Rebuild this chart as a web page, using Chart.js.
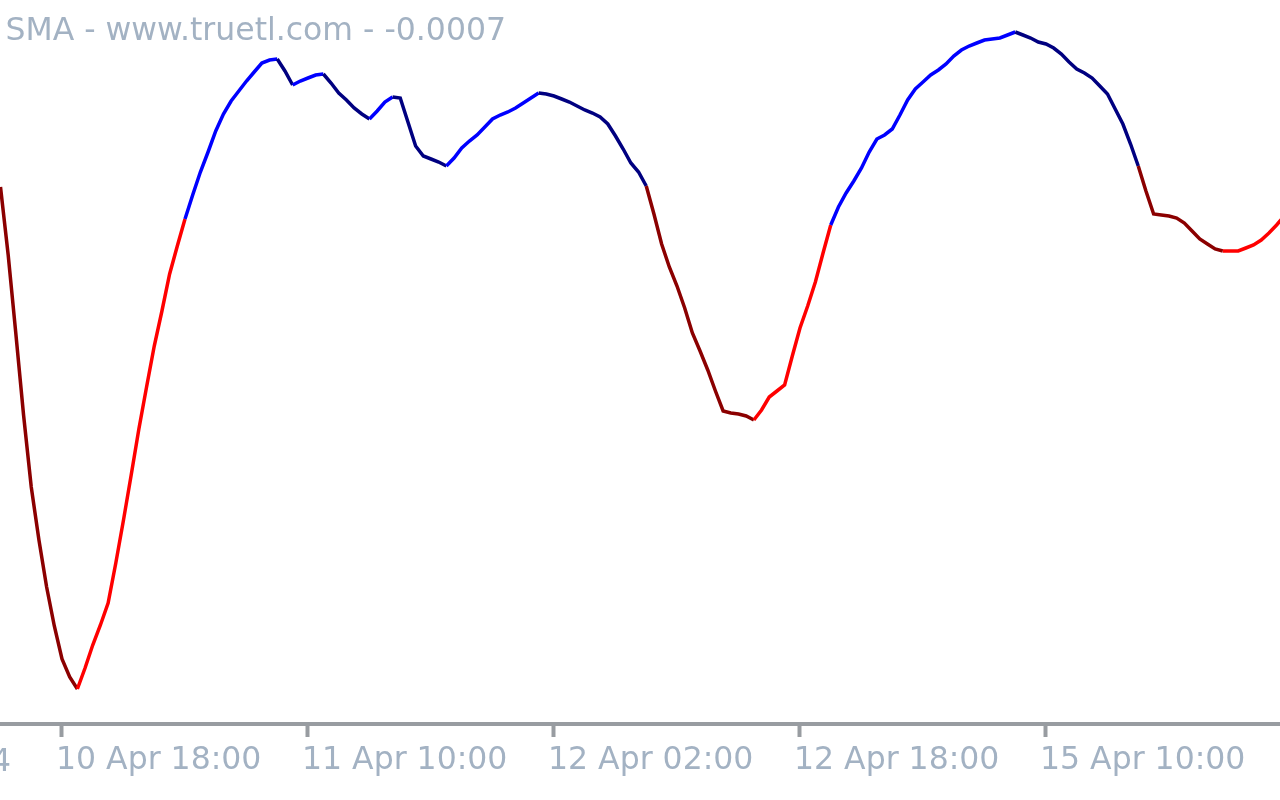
<!DOCTYPE html>
<html lang="en">
<head>
<meta charset="UTF-8">
<title>SMA - www.truetl.com</title>
<script src="https://cdn.jsdelivr.net/npm/chart.js"></script>
<style>
  html, body { margin: 0; padding: 0; background: #fff; }
  .chart-box { position: relative; width: 1280px; height: 800px; }
</style>
</head>
<body>
<div class="chart-box"><canvas id="smaChart"></canvas></div>
<script>
// SMA readings in pips (x 0.0001), one every 30 min starting 10 Apr 14:00
const sma = [
  -3.9, -10.7, -18.6, -26.7, -33.9, -39.2, -43.9, -47.8, -51.1, -52.9,
  -54.1, -52.0, -49.7, -47.7, -45.5, -41.5, -37.2, -32.7, -28.1, -23.9,
  -19.8, -16.3, -12.6, -9.8, -7.1, -4.7, -2.4, -0.4, 1.7, 3.4,
  4.7, 5.7, 6.7, 7.6, 8.5, 8.8, 8.9, 7.7, 6.3, 6.7,
  7.0, 7.3, 7.4, 6.5, 5.5, 4.8, 4.0, 3.4, 2.9, 3.7,
  4.6, 5.1, 5.0, 2.6, 0.2, -0.8, -1.1, -1.4, -1.8, -1.0,
  0.0, 0.7, 1.3, 2.1, 2.9, 3.3, 3.6, 4.0, 4.5, 5.0,
  5.5, 5.4, 5.2, 4.9, 4.6, 4.2, 3.8, 3.5, 3.1, 2.4,
  1.2, -0.1, -1.5, -2.4, -3.8, -6.6, -9.6, -11.9, -13.8, -16.0,
  -18.5, -20.3, -22.2, -24.3, -26.3, -26.5, -26.6, -26.8, -27.2, -26.2,
  -24.9, -24.3, -23.7, -20.8, -18.0, -15.8, -13.4, -10.5, -7.7, -5.9,
  -4.5, -3.3, -2.0, -0.4, 0.9, 1.3, 1.9, 3.3, 4.8, 5.9,
  6.6, 7.3, 7.8, 8.4, 9.2, 9.8, 10.2, 10.5, 10.8, 10.9,
  11.0, 11.3, 11.6, 11.3, 11.0, 10.6, 10.4, 10.0, 9.4, 8.6,
  7.9, 7.5, 7.0, 6.2, 5.4, 3.9, 2.4, 0.4, -1.8, -4.3,
  -6.6, -6.7, -6.8, -7.0, -7.5, -8.3, -9.1, -9.6, -10.1, -10.3,
  -10.3, -10.3, -10.0, -9.7, -9.2, -8.5, -7.7, -6.8
];
// reading index where the indicator switches between bear and bull colouring
const zoneFlips = [24, 84, 108, 148];

// time axis: trading hours counted from 10 Apr 14:00
const tickHours = [4, 20, 36, 52, 68];
const tickLabels = ['10 Apr 18:00', '11 Apr 10:00', '12 Apr 02:00', '12 Apr 18:00', '15 Apr 10:00'];
const firstDateLabel = '10 Apr 2024';

const textColor = '#a3b2c3';
const axisColor = '#989ca1';
const titleText = 'SMA - www.truetl.com - ' + (sma[sma.length - 1] / 10000).toFixed(4);

const points = sma.map((v, i) => ({ x: i * 0.5, y: v }));

function segColor(ctx) {
  const i = ctx.p0DataIndex;
  const bull = zoneFlips.filter(f => f <= i).length % 2 === 1;
  const rising = ctx.p1.parsed.y >= ctx.p0.parsed.y;
  if (bull) return rising ? '#0000ff' : '#000080';
  return rising ? '#ff0000' : '#8b0000';
}

const textPlugin = {
  id: 'mtText',
  afterDraw(chart) {
    const c = chart.ctx;
    c.save();
    c.font = '31.5px "DejaVu Sans"';
    c.fillStyle = textColor;
    c.textBaseline = 'alphabetic';
    c.textAlign = 'right';
    c.fillText(titleText, 506, 40);
    c.fillText(firstDateLabel, 11, 771);
    c.restore();
  }
};

new Chart(document.getElementById('smaChart'), {
  type: 'line',
  data: {
    datasets: [{
      data: points,
      borderWidth: 3.5,
      borderColor: '#000080',
      pointRadius: 0,
      tension: 0,
      segment: { borderColor: segColor }
    }]
  },
  options: {
    responsive: true,
    maintainAspectRatio: false,
    animation: false,
    layout: { padding: 0 },
    plugins: { legend: { display: false }, tooltip: { enabled: false } },
    scales: {
      x: {
        type: 'linear',
        min: -0.0325,
        max: 83.22,
        afterBuildTicks: s => { s.ticks = tickHours.map(v => ({ value: v })); },
        afterFit: s => { s.height = 76; },
        border: { display: true, color: axisColor, width: 4 },
        grid: {
          display: true,
          drawOnChartArea: false,
          drawTicks: true,
          tickLength: 13,
          tickWidth: 4,
          color: axisColor
        },
        ticks: {
          align: 'start',
          labelOffset: -6,
          padding: 5,
          maxRotation: 0,
          autoSkip: false,
          color: textColor,
          font: { family: 'DejaVu Sans', size: 31.5 },
          callback: v => tickLabels[tickHours.indexOf(v)]
        }
      },
      y: {
        display: false,
        min: -57.6,
        max: 14.8
      }
    }
  },
  plugins: [textPlugin]
});
</script>
</body>
</html>
